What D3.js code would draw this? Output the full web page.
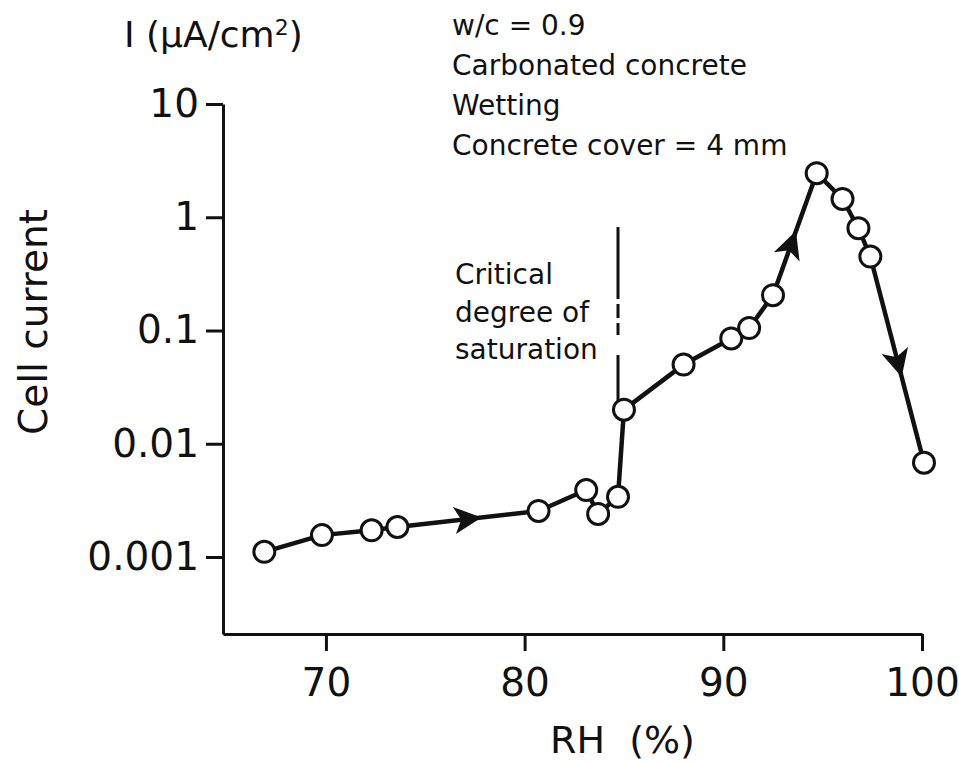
<!DOCTYPE html>
<html>
<head>
<meta charset="utf-8">
<script src="https://cdn.jsdelivr.net/npm/d3@7"></script>
<style>
  html, body { margin: 0; padding: 0; background: #fff; }
  svg text { font-family: "DejaVu Sans", Verdana, sans-serif; fill: #111; }
</style>
</head>
<body>
<svg id="chart" width="959" height="763"></svg>
<script>
// ---- data ----
const rhValues      = [66.9, 69.8, 72.3, 73.6, 80.7, 83.1, 83.7, 84.7, 85.0, 88.0, 90.4, 91.3, 92.5, 94.7, 96.0, 96.8, 97.4, 100.1];
const currentValues = [0.00111, 0.00156, 0.00172, 0.00184, 0.00255, 0.0039, 0.0024, 0.0034, 0.020, 0.050, 0.085, 0.105, 0.205, 2.45, 1.45, 0.80, 0.45, 0.0068];
// arrows: segment index (between point i and i+1) and fraction along it
const arrowSegments  = [3, 12, 16];
const arrowFractions = [0.5, 0.42, 0.52];
const xTickValues = [70, 80, 90, 100];
const yTickValues = [0.001, 0.01, 0.1, 1, 10];
const yTickLabels = ["0.001", "0.01", "0.1", "1", "10"];
const criticalRH = 84.7;
const criticalRange = [0.82, 0.024];
const infoLines = ["w/c = 0.9", "Carbonated concrete", "Wetting", "Concrete cover = 4 mm"];
const criticalLines = ["Critical", "degree of", "saturation"];

// ---- layout ----
const svg = d3.select("#chart");
const x = d3.scaleLinear().domain([64.82, 100]).range([223, 922]);
const y = d3.scaleLog().domain([Math.pow(10, -3.68), 10]).range([634, 104]);

// axes
const xAxis = d3.axisBottom(x).tickValues(xTickValues).tickSize(17).tickPadding(17).tickSizeOuter(0).tickFormat(d3.format("d"));
const yAxis = d3.axisLeft(y).tickValues(yTickValues).tickSize(17).tickPadding(7).tickSizeOuter(0)
  .tickFormat((d, i) => yTickLabels[i]);

const gx = svg.append("g").attr("transform", "translate(0,634)").call(xAxis);
const gy = svg.append("g").attr("transform", "translate(223,0)").call(yAxis);
[gx, gy].forEach(g => {
  g.selectAll("path.domain").attr("stroke", "#111").attr("stroke-width", 3);
  g.selectAll(".tick line").attr("stroke", "#111").attr("stroke-width", 3);
  g.selectAll(".tick text").style("font-family", "DejaVu Sans").style("font-size", "39px").attr("fill", "#111");
});

// axis titles
svg.append("text")
  .attr("transform", "translate(47,322) rotate(-90)")
  .attr("text-anchor", "middle")
  .style("font-size", "39px")
  .text("Cell current");

svg.append("text")
  .attr("x", 550).attr("y", 753)
  .style("font-size", "38px")
  .style("white-space", "pre")
  .attr("xml:space", "preserve")
  .text("RH  (%)");

const unit = svg.append("text").attr("x", 124).attr("y", 47).style("font-size", "36px");
unit.append("tspan").text("I (µA/cm");
unit.append("tspan").attr("dy", "-0.55em").style("font-size", "22px").text("2");
unit.append("tspan").attr("dy", "0.34em").text(")");

// info text
svg.append("g").selectAll("text").data(infoLines).join("text")
  .attr("x", 452).attr("y", (d, i) => 35 + i * 40)
  .style("font-size", "28px")
  .text(d => d);

svg.append("g").selectAll("text").data(criticalLines).join("text")
  .attr("x", 455).attr("y", (d, i) => 284 + i * 37.5)
  .style("font-size", "28px")
  .text(d => d);

// critical dashed line
svg.append("line")
  .attr("x1", x(criticalRH)).attr("x2", x(criticalRH))
  .attr("y1", y(criticalRange[0])).attr("y2", y(criticalRange[1]))
  .attr("stroke", "#111").attr("stroke-width", 3)
  .attr("stroke-dasharray", "72 5 14 5 12 20 60");

// data line
const pts = rhValues.map((r, i) => [x(r), y(currentValues[i])]);
svg.append("path")
  .attr("d", d3.line()(pts))
  .attr("fill", "none").attr("stroke", "#111").attr("stroke-width", 4.5)
  .attr("stroke-linejoin", "round");

// arrows
arrowSegments.forEach((s, k) => {
  const a = pts[s], b = pts[s + 1], t = arrowFractions[k];
  const px = a[0] + (b[0] - a[0]) * t, py = a[1] + (b[1] - a[1]) * t;
  const ang = Math.atan2(b[1] - a[1], b[0] - a[0]) * 180 / Math.PI;
  svg.append("path")
    .attr("d", "M12,0 L-12,-12 L-6,0 L-12,12 Z")
    .attr("transform", `translate(${px},${py}) rotate(${ang})`)
    .attr("fill", "#111").attr("stroke", "#111").attr("stroke-width", 1.5);
});

// markers
svg.append("g").selectAll("circle").data(rhValues).join("circle")
  .attr("cx", d => x(d))
  .attr("cy", (d, i) => y(currentValues[i]))
  .attr("r", 10.5)
  .attr("fill", "#fff").attr("stroke", "#111").attr("stroke-width", 3);
</script>
</body>
</html>
